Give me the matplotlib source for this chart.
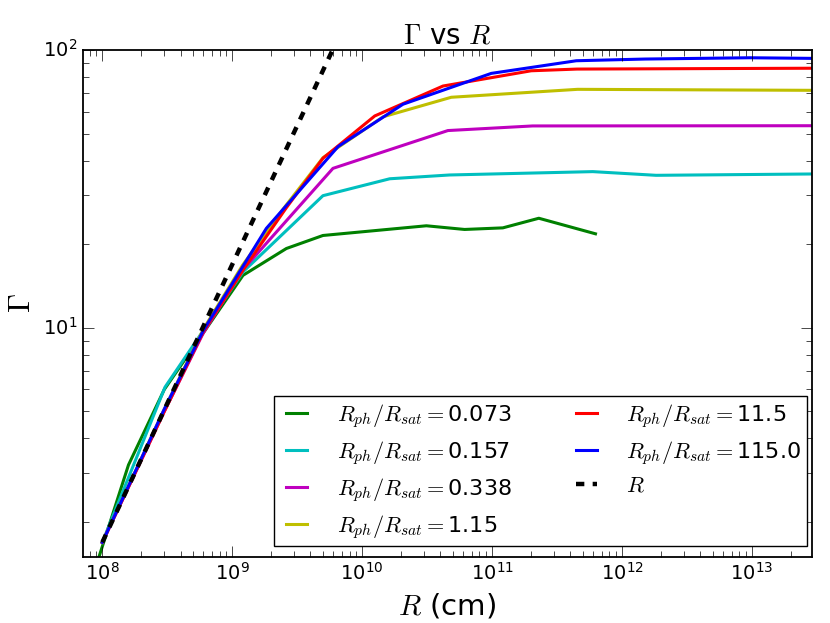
import matplotlib
matplotlib.use('Agg')
import matplotlib.pyplot as plt

# ---- data ----
labels = ['0.073', '0.157', '0.338', '1.15', '11.5', '115.0']

R_green = [9.0e7, 1.59e8, 3.0e8, 1.21e9, 2.61e9, 4.99e9, 3.12e10, 6.14e10, 1.21e11, 2.29e11, 6.25e11]
G_green = [1.40, 3.21, 6.0, 15.45, 19.3, 21.5, 23.3, 22.6, 22.9, 24.8, 21.8]

R_cyan = [1.0e8, 3.04e8, 1.21e9, 4.99e9, 1.63e10, 4.71e10, 5.96e11, 1.83e12, 3.0e13]
G_cyan = [1.69, 6.12, 15.9, 29.9, 34.4, 35.5, 36.5, 35.4, 35.8]

R_mag = [1.0e8, 3.0e8, 6.0e8, 1.21e9, 5.96e9, 4.57e10, 2.05e11, 3.0e13]
G_mag = [1.69, 5.0, 9.6, 16.2, 37.5, 51.3, 53.3, 53.4]

R_yel = [1.0e8, 3.0e8, 6.0e8, 1.2e9, 2.5e9, 5.0e9, 1.45e10, 4.85e10, 4.55e11, 3.0e13]
G_yel = [1.69, 5.1, 9.9, 16.8, 27.0, 41.0, 57.5, 67.6, 72.2, 71.6]

R_red = [1.0e8, 3.0e8, 6.0e8, 1.25e9, 2.6e9, 5.0e9, 1.25e10, 4.19e10, 2.0e11, 4.5e11, 3.0e13]
G_red = [1.69, 5.0, 9.7, 16.5, 27.0, 40.8, 57.9, 74.2, 84.2, 85.4, 86.0]

R_blue = [1.0e8, 3.0e8, 6.0e8, 1.83e9, 6.52e9, 2.06e10, 9.86e10, 4.45e11, 1.5e12, 9.55e12, 3.0e13]
G_blue = [1.69, 5.1, 9.8, 22.8, 44.9, 63.8, 82.4, 91.5, 92.8, 93.8, 93.3]

R_ref = [1.0e8, 6.0e9]
G_ref = [1.69, 101.4]

plt.style.use('classic')
plt.rcParams['mathtext.fontset'] = 'cm'
plt.rcParams['lines.scale_dashes'] = False
plt.rcParams['savefig.facecolor'] = 'white'
plt.rcParams['figure.facecolor'] = 'white'

fig = plt.figure(figsize=(8.3, 6.23), dpi=100)
ax = fig.add_axes([0.1, 0.1064, 0.8783, 0.8133])

series = [(R_green, G_green, 'g'), (R_cyan, G_cyan, 'c'), (R_mag, G_mag, 'm'),
          (R_yel, G_yel, 'y'), (R_red, G_red, 'r'), (R_blue, G_blue, 'b')]
for (rx, gy, col), lab in zip(series, labels):
    ax.plot(rx, gy, color=col, lw=2.2, label=r'$R_{ph}/R_{sat}=$' + lab)
ax.plot(R_ref, G_ref, color='k', lw=3.2, linestyle='--', dashes=(6, 6), label=r'$R$')

ax.set_xscale('log')
ax.set_yscale('log')
ax.set_xlim(7.1e7, 2.9e13)
ax.set_ylim(1.5, 100)

ax.set_title(r'$\Gamma$ vs $R$', fontsize=20)
ax.set_xlabel(r'$R$ (cm)', fontsize=21)
ax.set_ylabel(r'$\Gamma$', fontsize=22)
ax.tick_params(which='major', labelsize=14, length=8)
ax.tick_params(which='minor', length=4)
for s in ax.spines.values():
    s.set_linewidth(1.3)

ax.legend(loc='lower right', bbox_to_anchor=(0.993, 0.021), borderaxespad=0,
          ncol=2, fontsize=16, handlelength=1.53, borderpad=0.25,
          handletextpad=1.04, columnspacing=2.6, labelspacing=0.4)

fig.savefig('out.png', dpi=100)
